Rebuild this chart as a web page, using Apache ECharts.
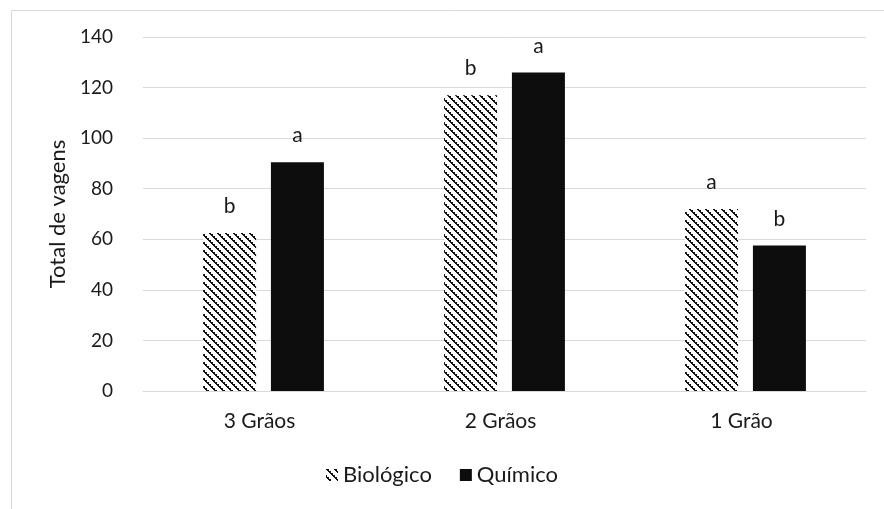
<!DOCTYPE html>
<html>
<head>
<meta charset="utf-8">
<script src="https://cdn.jsdelivr.net/npm/echarts@6/dist/echarts.min.js"></script>
<style>html,body{margin:0;padding:0;background:#fff;}#c{width:884px;height:509px;}</style>
</head>
<body>
<div id="c"></div>
<script>
var categories = ['3 Grãos', '2 Grãos', '1 Grão'];
var biologico = [62.5, 117, 72];
var quimico = [90.5, 126, 57.5];
var letrasBio = ['b', 'b', 'a'];
var letrasQuim = ['a', 'a', 'b'];
var yTicks = [0, 20, 40, 60, 80, 100, 120, 140];

function makeHatch() {
  var c = document.createElement('canvas');
  c.width = 8; c.height = 8;
  var ctx = c.getContext('2d');
  ctx.fillStyle = '#ffffff';
  ctx.fillRect(0, 0, 8, 8);
  ctx.fillStyle = '#111111';
  for (var i = 0; i < 8; i++) {
    ctx.fillRect(i, i, 1, 1);
    ctx.fillRect((i + 1) % 8, i, 1, 1);
    if (i % 2 === 0) ctx.fillRect((i + 2) % 8, i, 1, 1);
  }
  return c;
}
var hatch = { image: makeHatch(), repeat: 'repeat' };

var FONT = 'Lato';
var TXT = '#1a1a1a';
var chart = echarts.init(document.getElementById('c'), null, { renderer: 'canvas' });
chart.setOption({
  animation: false,
  backgroundColor: '#ffffff',
  graphic: [{
    type: 'rect', left: 9, top: 8, shape: { width: 900, height: 520 },
    style: { fill: 'none', stroke: '#d9d9d9', lineWidth: 1 }, silent: true, z: -10
  }],
  grid: { left: 143, right: 18, top: 37, bottom: 118 },
  legend: {
    bottom: 18, left: 'center', itemWidth: 12, itemHeight: 12, itemGap: 28,
    icon: 'rect',
    textStyle: { fontFamily: FONT, fontSize: 22, color: TXT },
    data: ['Biológico', 'Químico']
  },
  xAxis: {
    type: 'category', data: categories,
    axisLine: { lineStyle: { color: '#d9d9d9', width: 1 } },
    axisTick: { show: false },
    axisLabel: { fontFamily: FONT, fontSize: 21, color: TXT, margin: 20, padding: [0, 8, 0, 0] }
  },
  yAxis: {
    type: 'value', min: yTicks[0], max: yTicks[yTicks.length - 1], interval: 20,
    name: 'Total de vagens', nameLocation: 'middle', nameGap: 64,
    nameTextStyle: { fontFamily: FONT, fontSize: 22, color: TXT },
    axisLine: { show: false }, axisTick: { show: false },
    splitLine: { lineStyle: { color: '#d9d9d9', width: 1 } },
    axisLabel: { fontFamily: FONT, fontSize: 19, color: TXT, margin: 30 }
  },
  series: [{
    name: 'Biológico', type: 'bar', data: biologico, barWidth: 53, barGap: '28%',
    itemStyle: { color: hatch },
    label: { show: true, position: 'top', distance: 16, fontFamily: FONT, fontSize: 21, color: TXT,
      formatter: function (p) { return letrasBio[p.dataIndex]; } }
  }, {
    name: 'Químico', type: 'bar', data: quimico, barWidth: 53,
    itemStyle: { color: '#0d0d0d' },
    label: { show: true, position: 'top', distance: 16, fontFamily: FONT, fontSize: 21, color: TXT,
      formatter: function (p) { return letrasQuim[p.dataIndex]; } }
  }]
});
</script>
</body>
</html>
